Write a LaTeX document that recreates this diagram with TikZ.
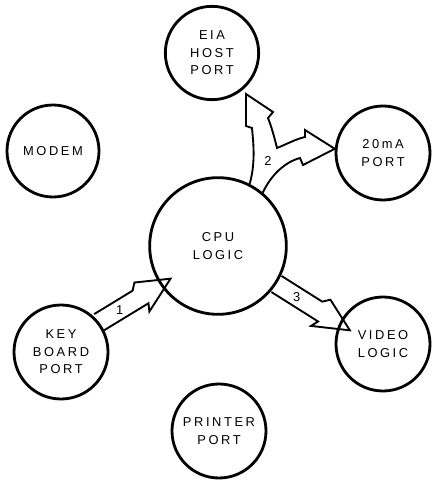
\documentclass[tikz,border=0pt]{standalone}
\usepackage{fontspec}
\setmainfont{Liberation Sans}
\newfontfamily\lblfont[LetterSpace=20]{Liberation Sans}
\usetikzlibrary{calc}

% wide arrow with a broken (zigzag) head, drawn from #1 (tail) to #2 (tip)
\newcommand{\boltarrow}[4]{%
	\path let \p1=(#1), \p2=(#2),
		\n1={atan2(\y2-\y1,\x2-\x1)}, \n2={veclen(\x2-\x1,\y2-\y1)/0.85358}
		in \pgfextra{\xdef\boltang{\n1}\xdef\boltlen{\n2}};
	\begin{scope}[shift={(#1)}, rotate=\boltang, x=0.03cm, y=0.03cm]
		\draw[bolt] (0,9.5) -- ({\boltlen-33},9.5) -- ({\boltlen-28},15.5) -- (\boltlen,0)
			-- ({\boltlen-30},-17) -- ({\boltlen-27},-9.5) -- (0,-9.5);
		\node[numlbl] (#3) at (24,0) {#4};
	\end{scope}
}

\begin{document}
\begin{tikzpicture}[
			x=0.03cm, y=-0.03cm,
			port/.style={circle, draw, line width=2.4pt, minimum size=2.82cm, inner sep=0pt, align=center,
				font=\lblfont\fontsize{11pt}{15pt}\selectfont},
			bolt/.style={line width=1.6pt, line join=miter},
			numlbl/.style={inner sep=1pt, font=\lblfont\fontsize{11pt}{13pt}\selectfont}
			]
			\useasboundingbox (0,0) rectangle (433,481);
			
			% CPU in the middle
			\node[port, minimum size=4.1cm] (cpu) at (218,246) {CPU\\LOGIC};
			
			% ports round it
			\node[port, minimum size=2.8cm] (eia) at (212,53) {EIA\\HOST\\PORT};
			\node[port] (ma) at (383,153) {20mA\\PORT};
			\node[port, minimum size=2.76cm] (modem) at (53,151) {MODEM};
			\node[port] (kbd) at (61,352) {KEY\\BOARD\\PORT};
			\node[port] (video) at (383,344) {VIDEO\\LOGIC};
			\node[port] (prn) at (219,431) {PRINTER\\PORT};
			
			% arrows 1 and 3
			\boltarrow{kbd.38}{cpu.214}{n1}{1}
			\boltarrow{cpu.-33}{video.155}{n3}{3}
			
			% arrow 2 splits to the EIA port and the 20mA port
			\coordinate (t2a) at (246,94);
			\draw[bolt] (cpu.63) .. controls (256,162) and (253,140) .. (252,128) -- (246,126) -- (t2a)
				-- (273,112) -- (268,118) .. controls (272,128) and (275,140) .. (277,148)
				.. controls (287,144) and (296,139) .. (305,137) -- (305,130) -- (ma.175)
				-- (303,165) -- (300,158) .. controls (285,162) and (271,175) .. (cpu.50);
			\node[numlbl] (n2) at (268,161) {2};
			
		\end{tikzpicture}
\end{document}
